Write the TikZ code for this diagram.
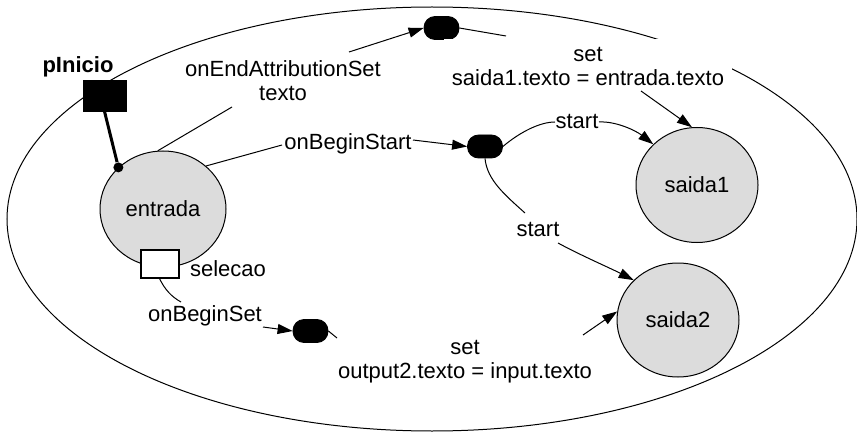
\documentclass[tikz,border=0pt]{standalone}
\usepackage{fontspec}
\setmainfont{Liberation Sans}
\usetikzlibrary{arrows.meta,shapes.geometric}
\definecolor{stfill}{RGB}{220,220,220}
\begin{document}
\begin{tikzpicture}[x=0.5pt,y=-0.5pt,
  every node/.style={font=\fontsize{11}{12}\selectfont},
  conn/.style={line width=0.5pt},
  arr/.style={line width=0.5pt,-{Triangle[length=7.5pt,width=5pt]}},
  state/.style={ellipse,draw,line width=0.5pt,fill=stfill,inner sep=0pt},
  evt/.style={rectangle,rounded corners=5.5pt,fill=black,draw=black,minimum width=17.5pt,minimum height=11.5pt,inner sep=0pt},
  lbl/.style={align=center,inner sep=1pt},
  lblw/.style={align=center,fill=white,inner sep=4pt}]
\useasboundingbox (0,0) rectangle (857,433);
% outer ellipse
\draw[conn] (432,219) ellipse [x radius=425, y radius=212];
% states
\node[state,minimum width=63pt,minimum height=58pt] (entrada) at (163,209) {entrada};
\node[state,minimum width=61pt,minimum height=57.5pt] (saida1) at (697,185) {saida1};
\node[state,minimum width=61pt,minimum height=57pt] (saida2) at (678,320) {saida2};
% event ovals
\node[evt] (o1) at (441.5,28) {};
\node[evt] (o2) at (485,146.5) {};
\node[evt] (o3) at (310.5,331) {};
% ports
\node[rectangle,fill=black,draw=black,minimum width=21.5pt,minimum height=15.5pt,inner sep=0pt] (pin) at (104.5,95.5) {};
\node[font=\fontsize{11}{12}\selectfont\bfseries,inner sep=1pt] (pinlab) at (78,67) {pInicio};
\node[rectangle,fill=white,draw=black,line width=1pt,minimum width=19pt,minimum height=14pt,inner sep=0pt] (sel) at (159.5,263.5) {};
\node[lbl] (sellab) at (228,269) {selecao};
\node[circle,fill=black,inner sep=0pt,minimum size=5pt] (dot) at (entrada.137) {};
% labels
\node[lbl] (l1) at (283,81) {onEndAttributionSet\\texto};
\node[lblw] (l2) at (588,66) {set\\saida1.texto = entrada.texto};
\node[lbl] (l3) at (348,144) {onBeginStart};
\node[lbl] (l4) at (577,121) {start};
\node[lbl] (l5) at (538,229) {start};
\node[lbl] (l6) at (205,316) {onBeginSet};
\node[lbl] (l7) at (465,362) {set\\output2.texto = input.texto};
% free ends
\coordinate (c1) at (232,107);
\coordinate (c2) at (349,52);
\coordinate (c3) at (506,36);
\coordinate (c4) at (641,91);
\coordinate (c5) at (282,145);
\coordinate (c6) at (413,140);
\coordinate (c7) at (555,122);
\coordinate (c8) at (599,122);
\coordinate (c9) at (525,213);
\coordinate (c10) at (558,243);
\coordinate (c11) at (181,302);
\coordinate (c12) at (263,327);
\coordinate (c13) at (337,338);
\coordinate (c14) at (583,335);
% connectors
\draw[line width=1.5pt] (pin.south) -- (dot);
\draw[conn] (entrada.95) -- (c1);
\draw[arr] (c2) -- (o1.west);
\draw[conn] (o1.east) -- (c3);
\draw[arr] (c4) -- (saida1.95);
\draw[conn] (entrada.45) -- (c5);
\draw[arr] (c6) -- (o2.west);
\draw[conn] (o2.east) .. controls (520,132) and (540,122) .. (c7);
\draw[arr] (c8) .. controls (615,121) and (635,130) .. (saida1.137);
\draw[conn] (o2.south) .. controls (487,180) and (505,195) .. (c9);
\draw[arr] (c10) .. controls (580,255) and (610,268) .. (saida2.138);
\draw[conn] (sel.south) .. controls (165,290) and (172,297) .. (c11);
\draw[arr] (c12) -- (o3.west);
\draw[conn] (o3.east) -- (c13);
\draw[arr] (c14) -- (saida2.172);
\end{tikzpicture}
\end{document}
